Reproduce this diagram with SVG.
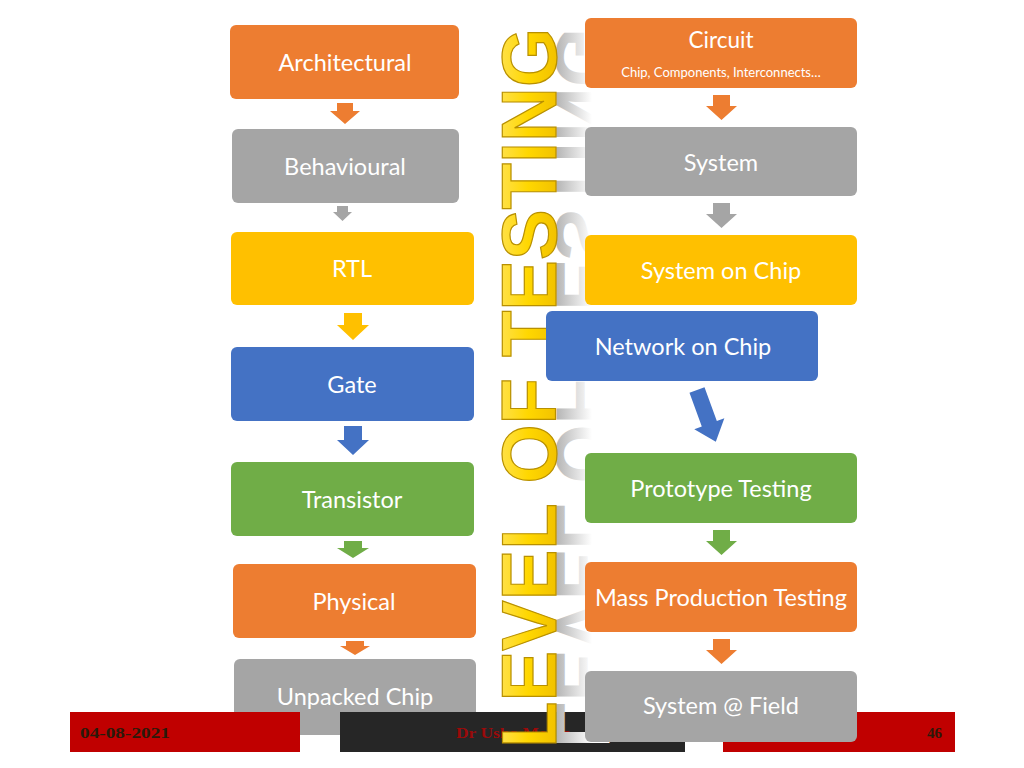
<svg xmlns="http://www.w3.org/2000/svg" width="1024" height="768" viewBox="0 0 1024 768">
<defs>
<linearGradient id="refl" x1="0" y1="0" x2="0" y2="-36" gradientUnits="userSpaceOnUse">
<stop offset="0" stop-color="#b4b4b4"/><stop offset="1" stop-color="#ffffff"/>
</linearGradient>
<linearGradient id="gold" x1="0" y1="-56" x2="0" y2="0" gradientUnits="userSpaceOnUse">
<stop offset="0" stop-color="#FFE14A"/><stop offset="0.5" stop-color="#FFD700"/><stop offset="1" stop-color="#F2C200"/>
</linearGradient>
</defs>
<style>
.box{stroke:none}
.lbl{font-family:Lato,"Liberation Sans",sans-serif;font-size:23.5px;fill:#ffffff;text-anchor:middle}
.sm{font-family:Lato,"Liberation Sans",sans-serif;font-size:13px;fill:#ffffff;text-anchor:middle}
.or{fill:#ED7D31}.gy{fill:#A5A5A5}.ye{fill:#FFC000}.bl{fill:#4472C4}.gr{fill:#70AD47}
.ft{font-family:"Liberation Serif",serif;font-weight:bold;font-size:15px}
</style>
<rect width="1024" height="768" fill="#ffffff"/>

<g id="left-column">
<g id="architectural"><rect class="box or" x="230" y="25" width="229" height="74" rx="6"/><text class="lbl" x="345" y="70.5">Architectural</text></g>
<g id="behavioural"><rect class="box gy" x="232" y="129" width="227" height="74" rx="6"/><text class="lbl" x="345" y="174.5">Behavioural</text></g>
<g id="rtl"><rect class="box ye" x="231" y="232" width="243" height="73" rx="6"/><text class="lbl" x="352" y="276.5">RTL</text></g>
<g id="gate"><rect class="box bl" x="231" y="347" width="243" height="74" rx="6"/><text class="lbl" x="352" y="392.5">Gate</text></g>
<g id="transistor"><rect class="box gr" x="231" y="462" width="243" height="74" rx="6"/><text class="lbl" x="352" y="507.5">Transistor</text></g>
<g id="physical"><rect class="box or" x="233" y="564" width="243" height="74" rx="6"/><text class="lbl" x="354" y="609.5">Physical</text></g>
<g id="unpacked-chip"><rect class="box gy" x="234" y="659" width="242" height="76" rx="6"/><text class="lbl" x="355" y="704.5">Unpacked Chip</text></g>
</g>

<g id="footer">
<rect x="70" y="712" width="230" height="40" fill="#C00000"/>
<rect x="340" y="712" width="345" height="40" fill="#262626"/>
<rect x="723" y="712" width="232" height="40" fill="#C00000"/>
<text class="ft" x="80" y="738" fill="#2b1a0a" textLength="90" lengthAdjust="spacingAndGlyphs">04-08-2021</text>
<text class="ft" x="456" y="738" fill="#9b0a0a" textLength="115" lengthAdjust="spacingAndGlyphs">Dr Usha Mehta</text>
<text class="ft" x="942" y="738" fill="#2b1a0a" text-anchor="end">46</text>
</g>

<g id="title">
<text transform="translate(556,748) rotate(-90) scale(1,-1)" x="0" y="0" font-family="Liberation Sans,sans-serif" font-weight="bold" font-size="78" textLength="720" lengthAdjust="spacingAndGlyphs" fill="url(#refl)">LEVEL OF TESTING</text>
<text transform="translate(556,748) rotate(-90)" x="0" y="0" font-family="Liberation Sans,sans-serif" font-weight="bold" font-size="78" textLength="720" lengthAdjust="spacingAndGlyphs" fill="url(#gold)" stroke="#B89000" stroke-width="1.2">LEVEL OF TESTING</text>
</g>

<g id="right-column">
<g id="circuit"><rect class="box or" x="585" y="18" width="272" height="70" rx="6"/><text class="lbl" x="721" y="48" style="font-size:22.5px">Circuit</text><text class="sm" x="721" y="77">Chip, Components, Interconnects…</text></g>
<g id="system"><rect class="box gy" x="585" y="127" width="272" height="69" rx="6"/><text class="lbl" x="721" y="170.5">System</text></g>
<g id="system-on-chip"><rect class="box ye" x="585" y="235" width="272" height="70" rx="6"/><text class="lbl" x="721" y="278.5">System on Chip</text></g>
<g id="network-on-chip"><rect class="box bl" x="546" y="311" width="272" height="70" rx="6"/><text class="lbl" x="683" y="354.5">Network on Chip</text></g>
<g id="prototype-testing"><rect class="box gr" x="585" y="453" width="272" height="70" rx="6"/><text class="lbl" x="721" y="496.5">Prototype Testing</text></g>
<g id="mass-production-testing"><rect class="box or" x="585" y="562" width="272" height="70" rx="6"/><text class="lbl" x="721" y="605.5">Mass Production Testing</text></g>
<g id="system-at-field"><rect class="box gy" x="585" y="671" width="272" height="71" rx="6"/><text class="lbl" x="721" y="713.5">System @ Field</text></g>
</g>

<g id="connectors">
<polygon class="or" points="337,103 353,103 353,111 360,111 345,124 330,111 337,111"/>
<polygon class="gy" points="337,206 348,206 348,212 352,212 342.5,221 333,212 337,212"/>
<polygon class="ye" points="344,313 362,313 362,325 369,325 353,340 337,325 344,325"/>
<polygon class="bl" points="344,426 362,426 362,440 369,440 353,455 337,440 344,440"/>
<polygon class="gr" points="344,541 362,541 362,548 369,548 353,558 337,548 344,548"/>
<polygon class="or" points="346,641 364,641 364,646 370,646 355,655 340,646 346,646"/>
<polygon class="or" points="713,95 730,95 730,106 737,106 721.5,120 706,106 713,106"/>
<polygon class="gy" points="713,203 730,203 730,214 737,214 721.5,228 706,214 713,214"/>
<polygon class="gr" points="713,530 730,530 730,541 737,541 721.5,555 706,541 713,541"/>
<polygon class="or" points="713,639 730,639 730,650 737,650 721.5,664 706,650 713,650"/>
<polygon class="bl" transform="translate(697,390) rotate(-20)" points="-8,0 8,0 8,36 16,36 0,55 -16,36 -8,36"/>
</g>
</svg>
